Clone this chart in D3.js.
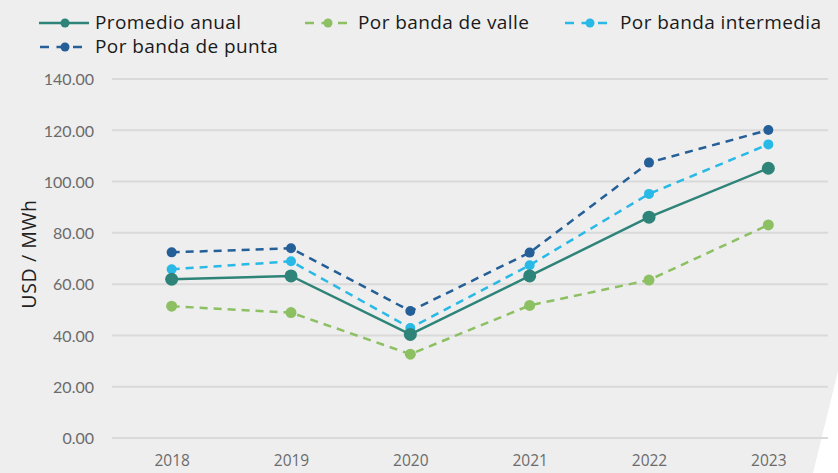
<!DOCTYPE html>
<html>
<head>
<meta charset="utf-8">
<script src="https://cdn.jsdelivr.net/npm/d3@7"></script>
<style>
  html, body { margin: 0; padding: 0; background: #ffffff; }
  svg { display: block; }
</style>
</head>
<body>
<svg id="chart" width="838" height="473"></svg>
<script>
const years = ["2018", "2019", "2020", "2021", "2022", "2023"];
const promedioAnual = [61.9, 63.2, 40.4, 63.2, 86.1, 105.2];
const bandaValle = [51.4, 48.9, 32.7, 51.7, 61.6, 83.1];
const bandaIntermedia = [65.8, 68.9, 42.9, 67.4, 95.2, 114.5];
const bandaPunta = [72.4, 74.0, 49.5, 72.3, 107.4, 120.1];
const yTicks = [0, 20, 40, 60, 80, 100, 120, 140];

const series = [
  { name: "Por banda de punta", values: bandaPunta, color: "#245f98", dashed: true, r: 5 },
  { name: "Por banda intermedia", values: bandaIntermedia, color: "#29b9e6", dashed: true, r: 5 },
  { name: "Por banda de valle", values: bandaValle, color: "#8cc063", dashed: true, r: 5.5 },
  { name: "Promedio anual", values: promedioAnual, color: "#2e8478", dashed: false, r: 6.5 }
];

const svg = d3.select("#chart");
const W = 838, H = 473;

// background
svg.append("rect").attr("width", W).attr("height", H).attr("fill", "#eeeeee");
svg.append("polygon").attr("points", "838,371 838,473 813,473").attr("fill", "#ffffff");

const x = d3.scalePoint().domain(years).range([112, 828]).padding(0.5);
const y = d3.scaleLinear().domain([0, 140]).range([438, 79]);

// gridlines
svg.append("g").selectAll("line").data(yTicks).join("line")
  .attr("x1", 112).attr("x2", 828)
  .attr("y1", d => y(d)).attr("y2", d => y(d))
  .attr("stroke", "#d9d9d9").attr("stroke-width", 2);

// y axis labels
const yAxis = d3.axisLeft(y).tickValues(yTicks).tickFormat(d3.format(".2f")).tickSize(0).tickPadding(0);
const gy = svg.append("g").attr("transform", "translate(94,0)").call(yAxis);
gy.select(".domain").remove();
gy.selectAll("text").attr("fill", "#6b6b6b").attr("font-family", "Lato, sans-serif")
  .attr("font-size", 16).attr("dy", "0.36em");

// x axis labels
const xAxis = d3.axisBottom(x).tickSize(0).tickPadding(0);
const gx = svg.append("g").attr("transform", "translate(0,455)").call(xAxis);
gx.select(".domain").remove();
gx.selectAll("text").attr("fill", "#6b6b6b").attr("font-family", "'Open Sans', sans-serif")
  .attr("font-size", 15.5).attr("dy", "0.71em");

// y title
svg.append("text").attr("transform", "translate(36,254) rotate(-90)")
  .attr("text-anchor", "middle").attr("fill", "#222")
  .attr("font-family", "'Open Sans', sans-serif").attr("font-size", 19.5)
  .attr("letter-spacing", 0.6)
  .text("USD / MWh");

// lines
const line = d3.line().x((d, i) => x(years[i])).y(d => y(d));
series.forEach(s => {
  svg.append("path").datum(s.values)
    .attr("d", line).attr("fill", "none")
    .attr("stroke", s.color).attr("stroke-width", 2.5)
    .attr("stroke-dasharray", s.dashed ? "8,6" : null);
  svg.append("g").selectAll("circle").data(s.values).join("circle")
    .attr("cx", (d, i) => x(years[i])).attr("cy", d => y(d))
    .attr("r", s.r).attr("fill", s.color);
});

// legend
const legendItems = [
  { s: series[3], lx1: 39, lx2: 89, mx: 65, tx: 95, y: 23 },
  { s: series[2], lx1: 305, lx2: 347, mx: 328, tx: 358, y: 23 },
  { s: series[1], lx1: 565, lx2: 607, mx: 590, tx: 620, y: 23 },
  { s: series[0], lx1: 40, lx2: 82, mx: 65, tx: 95, y: 47 }
];
const lg = svg.append("g");
legendItems.forEach(it => {
  lg.append("line").attr("x1", it.lx1).attr("x2", it.lx2).attr("y1", it.y).attr("y2", it.y)
    .attr("stroke", it.s.color).attr("stroke-width", 2.5)
    .attr("stroke-dasharray", it.s.dashed ? "9,7.5" : null);
  lg.append("circle").attr("cx", it.mx).attr("cy", it.y).attr("r", 4.5).attr("fill", it.s.color);
  lg.append("text").attr("x", it.tx).attr("y", it.y + 4).attr("fill", "#1a1a1a")
    .attr("font-family", "'Open Sans', sans-serif").attr("font-size", 19)
    .attr("letter-spacing", 0.4)
    .attr("dy", "0.1em").text(it.s.name);
});
</script>
</body>
</html>
